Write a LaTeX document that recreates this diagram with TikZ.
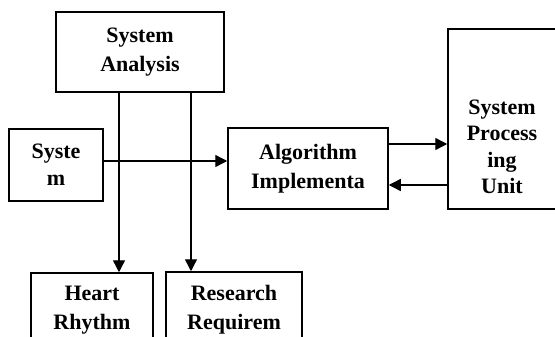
\documentclass[tikz,border=0pt]{standalone}
\usepackage{fontspec}
\setmainfont{Liberation Serif}
\usetikzlibrary{arrows.meta}
\tikzset {>={Triangle[length=12pt,width=12pt]}}

\begin{document}
\begin{tikzpicture}[x=1pt,y=-1pt,
  box/.style={draw,line width=1.5pt,inner sep=0pt,align=center,
    font=\bfseries\fontsize{22}{29}\selectfont},
  txt/.style={align=center,font=\bfseries\fontsize{22}{26.5}\selectfont},
  link/.style={->,line width=1.4pt}]
\clip (0,0) rectangle (555,337);
\fill[white] (0,0) rectangle (555,337);
% blocks
\node[box,minimum width=168,minimum height=80] (analysis) at (140,52) {System\\Analysis};
\node[box,minimum width=94,minimum height=72,
  font=\bfseries\fontsize{22}{27}\selectfont] (sys) at (56,165) {Syste\\m};
\node[box,minimum width=160,minimum height=81] (algo) at (308,168.5) {Algorithm\\Implementa};
\node[box,minimum width=150,minimum height=180] (spu) at (523,119) {};
\node[txt] (spu-text) at (502,147) {System\\Process\\ing\\Unit};
\node[box,minimum width=122,minimum height=75] (heart) at (92,310.5) {Heart\\Rhythm};
\node[box,minimum width=136,minimum height=76] (research) at (234,310) {Research\\Requirem};
% connectors
\draw[link] ([xshift=-21pt]analysis.south) -- ([xshift=27pt]heart.north);
\draw[link] ([xshift=51pt]analysis.south) -- ([xshift=-43pt]research.north);
\draw[link] ([yshift=4pt]sys.east) -- ([yshift=7.5pt]algo.west);
\draw[link] ([yshift=24.5pt]algo.east) -- ([yshift=-25pt]spu.west);
\draw[link] ([yshift=-66pt]spu.west) -- ([yshift=-16.5pt]algo.east);
\end{tikzpicture}
\end{document}
